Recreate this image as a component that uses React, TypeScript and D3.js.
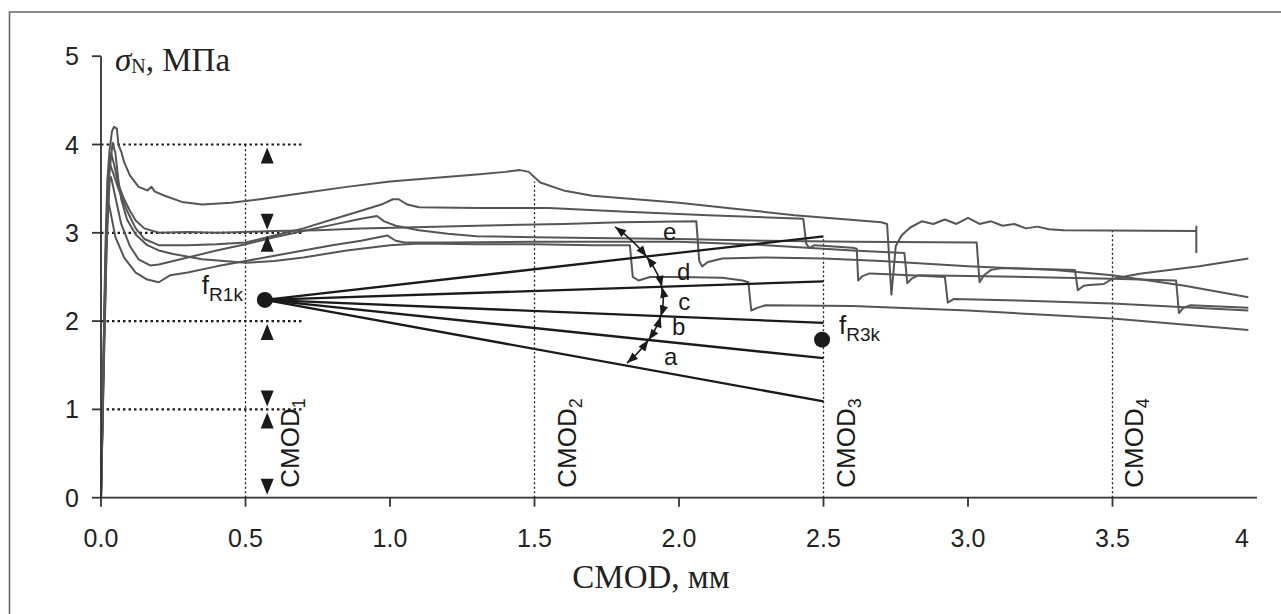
import React from "react";
import * as d3 from "d3";

// CMOD (mm) vs nominal stress (MPa), six specimen curves
type Pt = [number, number];

const curveA: Pt[] = [
  [0, 0], [0.008, 1.5], [0.015, 2.8], [0.022, 3.6], [0.03, 3.95], [0.038, 4.15], [0.045, 4.2],
  [0.055, 4.18], [0.06, 4.0], [0.07, 3.92], [0.08, 3.8], [0.1, 3.65], [0.13, 3.52], [0.16, 3.48],
  [0.175, 3.52], [0.185, 3.47], [0.22, 3.42], [0.28, 3.35], [0.35, 3.32], [0.45, 3.34], [0.55, 3.38],
  [0.7, 3.45], [0.85, 3.52], [1.0, 3.58], [1.15, 3.62], [1.3, 3.66], [1.4, 3.69], [1.45, 3.71],
  [1.48, 3.69], [1.52, 3.57], [1.6, 3.48], [1.7, 3.42], [1.85, 3.38], [2.0, 3.34], [2.2, 3.27],
  [2.4, 3.2], [2.55, 3.16], [2.7, 3.12], [2.72, 3.1], [2.735, 2.3], [2.75, 2.85], [2.77, 2.97],
  [2.8, 3.06], [2.84, 3.13], [2.88, 3.1], [2.92, 3.15], [2.96, 3.1], [3.0, 3.17], [3.04, 3.1],
  [3.08, 3.13], [3.12, 3.08], [3.16, 3.1], [3.2, 3.05], [3.24, 3.07], [3.28, 3.04], [3.33, 3.03],
  [3.79, 3.02], [3.79, 3.07], [3.79, 2.77],
];
const curveB: Pt[] = [
  [0, 0], [0.01, 1.7], [0.02, 3.1], [0.028, 3.7], [0.032, 3.77], [0.045, 3.65], [0.06, 3.5],
  [0.09, 3.25], [0.12, 3.05], [0.15, 2.93], [0.2, 2.86], [0.3, 2.86], [0.4, 2.87], [0.5, 2.89],
  [0.6, 2.97], [0.7, 3.05], [0.8, 3.15], [0.9, 3.25], [0.97, 3.32], [1.01, 3.38], [1.03, 3.38],
  [1.06, 3.32], [1.1, 3.29], [1.3, 3.28], [1.55, 3.28], [1.8, 3.24], [2.1, 3.2], [2.43, 3.16],
  [2.44, 2.88], [2.45, 2.83], [2.47, 2.86], [2.6, 2.83], [2.615, 2.82], [2.62, 2.46], [2.635, 2.51],
  [2.66, 2.54], [2.8, 2.52], [2.92, 2.5], [2.93, 2.21], [2.95, 2.25], [3.2, 2.23], [3.5, 2.2],
  [3.97, 2.12],
];
const curveC: Pt[] = [
  [0, 0], [0.01, 1.8], [0.02, 3.2], [0.03, 3.82], [0.035, 3.9], [0.045, 3.78], [0.06, 3.55],
  [0.08, 3.38], [0.1, 3.25], [0.12, 3.14], [0.15, 3.05], [0.2, 3.0], [0.3, 3.01], [0.4, 3.0],
  [0.5, 3.01], [0.6, 3.02], [0.75, 3.03], [0.9, 3.05], [1.05, 3.06], [1.3, 3.08], [1.6, 3.1],
  [1.8, 3.12], [2.06, 3.13], [2.07, 2.68], [2.08, 2.62], [2.1, 2.67], [2.15, 2.71], [2.3, 2.72],
  [2.5, 2.71], [2.7, 2.68], [3.0, 2.62], [3.3, 2.58], [3.5, 2.52], [3.75, 2.4], [3.97, 2.27],
];
const curveD: Pt[] = [
  [0, 0], [0.01, 1.5], [0.02, 2.9], [0.03, 3.6], [0.035, 3.63], [0.05, 3.4], [0.07, 3.1],
  [0.1, 2.85], [0.13, 2.7], [0.17, 2.63], [0.2, 2.64], [0.3, 2.72], [0.4, 2.8], [0.5, 2.87],
  [0.6, 2.95], [0.7, 3.02], [0.8, 3.09], [0.9, 3.16], [0.955, 3.19], [0.98, 3.13], [1.02, 3.08],
  [1.1, 3.03], [1.2, 2.99], [1.3, 2.96], [1.5, 2.95], [1.7, 2.94], [2.0, 2.93], [2.3, 2.91],
  [2.6, 2.9], [3.03, 2.89], [3.04, 2.44], [3.055, 2.52], [3.08, 2.58], [3.12, 2.6], [3.25, 2.59],
  [3.37, 2.58], [3.38, 2.35], [3.4, 2.4], [3.42, 2.41], [3.47, 2.42], [3.5, 2.48], [3.6, 2.54],
  [3.8, 2.62], [3.97, 2.71],
];
const curveE: Pt[] = [
  [0, 0], [0.008, 1.4], [0.015, 2.6], [0.022, 3.25], [0.027, 3.33], [0.035, 3.2], [0.05, 2.95],
  [0.08, 2.72], [0.12, 2.55], [0.16, 2.47], [0.2, 2.44], [0.24, 2.52], [0.3, 2.55], [0.4, 2.62],
  [0.5, 2.68], [0.6, 2.74], [0.7, 2.8], [0.8, 2.86], [0.9, 2.91], [0.99, 2.97], [1.02, 2.91],
  [1.05, 2.89], [1.2, 2.89], [1.5, 2.9], [1.8, 2.9], [2.0, 2.9], [2.3, 2.86], [2.6, 2.8],
  [2.78, 2.77], [2.79, 2.43], [2.805, 2.48], [2.83, 2.52], [3.0, 2.51], [3.2, 2.5], [3.5, 2.48],
  [3.72, 2.46], [3.73, 2.09], [3.745, 2.15], [3.77, 2.18], [3.97, 2.15],
];
const curveX: Pt[] = [
  [0, 0], [0.01, 1.6], [0.02, 3.0], [0.03, 3.7], [0.04, 4.02], [0.05, 3.9], [0.06, 3.6],
  [0.07, 3.38], [0.09, 3.15], [0.12, 2.98], [0.16, 2.86], [0.2, 2.8], [0.25, 2.76], [0.35, 2.7],
  [0.5, 2.66], [0.6, 2.68], [0.7, 2.72], [0.85, 2.8], [1.0, 2.86], [1.1, 2.88], [1.3, 2.87],
  [1.5, 2.87], [1.7, 2.86], [1.83, 2.86], [1.84, 2.5], [1.86, 2.46], [1.9, 2.5], [2.0, 2.5],
  [2.15, 2.49], [2.22, 2.46], [2.24, 2.44], [2.25, 2.12], [2.27, 2.15], [2.3, 2.18], [2.6, 2.17],
  [3.0, 2.12], [3.5, 2.03], [3.97, 1.9],
];
const curves = [curveA, curveB, curveC, curveD, curveE, curveX];

const xTicks = [0, 0.5, 1, 1.5, 2, 2.5, 3, 3.5];
const xTickLabels = ["0.0", "0.5", "1.0", "1.5", "2.0", "2.5", "3.0", "3.5", "4"];
const yTicks = [0, 1, 2, 3, 4, 5];

const fR1k: Pt = [0.567, 2.24];
const fR3k: Pt = [2.495, 1.79];
// straight lines from fR1k to CMOD3
const fanEnds = [2.96, 2.45, 1.98, 1.58, 1.09];
const fanNames = ["e", "d", "c", "b", "a"];
const fanLabelPos: Pt[] = [[1.945, 2.92], [1.993, 2.46], [1.997, 2.13], [1.976, 1.84], [1.948, 1.5]];

const levelLines = [4, 3, 2, 1];
const levelMarks: { v: number; dir: number }[] = [
  { v: 4, dir: 1 }, { v: 3, dir: -1 }, { v: 3, dir: 1 }, { v: 2, dir: 1 },
  { v: 1, dir: -1 }, { v: 1, dir: 1 }, { v: 0, dir: -1 },
];
const cmodX = [0.5, 1.5, 2.5, 3.5];
const cmodTop = [4.0, 3.58, 2.95, 3.03];
const cmodNames = ["1", "2", "3", "4"];
const cmodDx = [53, 41, 31, 30];

// angle arc: start, a point in the middle, end
const arcStart: Pt = [1.779, 3.066];
const arcMid: Pt = [1.945, 2.3];
const arcEnd: Pt = [1.82, 1.525];

const W = 1281;
const H = 614;
const SANS = "'Liberation Sans', Arial, sans-serif";
const SERIF = "'Liberation Serif', 'Times New Roman', serif";
const GRAY = "#555";
const INK = "#1a1a1a";

export default function App() {
  const x = d3.scaleLinear().domain([0, 4]).range([101, 1257]);
  const y = d3.scaleLinear().domain([0, 5]).range([497.7, 56.2]);
  const line = d3.line<Pt>().x(d => x(d[0])).y(d => y(d[1]));

  // quadratic bezier through the mid point
  const p0: Pt = [x(arcStart[0]), y(arcStart[1])];
  const p2: Pt = [x(arcEnd[0]), y(arcEnd[1])];
  const m: Pt = [x(arcMid[0]), y(arcMid[1])];
  const p1: Pt = [2 * m[0] - (p0[0] + p2[0]) / 2, 2 * m[1] - (p0[1] + p2[1]) / 2];
  const bez = (t: number): Pt => [
    (1 - t) * (1 - t) * p0[0] + 2 * (1 - t) * t * p1[0] + t * t * p2[0],
    (1 - t) * (1 - t) * p0[1] + 2 * (1 - t) * t * p1[1] + t * t * p2[1],
  ];
  const tan = (t: number): Pt => {
    const dx = 2 * (1 - t) * (p1[0] - p0[0]) + 2 * t * (p2[0] - p1[0]);
    const dy = 2 * (1 - t) * (p1[1] - p0[1]) + 2 * t * (p2[1] - p1[1]);
    const l = Math.hypot(dx, dy);
    return [dx / l, dy / l];
  };
  const F: Pt = [x(fR1k[0]), y(fR1k[1])];
  const crossT = fanEnds.map(v => {
    const E: Pt = [x(2.5), y(v)];
    const s = (t: number) => {
      const b = bez(t);
      return (E[0] - F[0]) * (b[1] - F[1]) - (E[1] - F[1]) * (b[0] - F[0]);
    };
    let prev = s(0);
    for (let i = 1; i <= 400; i++) {
      const t = i / 400;
      const cur = s(t);
      if (prev === 0 || prev * cur < 0) return t;
      prev = cur;
    }
    return 1;
  });
  // arrowheads: apex at point, pointing along +/- tangent
  const arrow = (t: number, sign: number) => {
    const [ax, ay] = bez(t);
    const [ux, uy] = tan(t).map(v => v * sign) as Pt;
    const L = 11, hw = 4.2;
    const bx = ax - ux * L, by = ay - uy * L;
    return `M${ax},${ay}L${bx - uy * hw},${by + ux * hw}L${bx + uy * hw},${by - ux * hw}Z`;
  };
  const arrows: string[] = [arrow(0, -1)];
  crossT.forEach((t, i) => {
    arrows.push(arrow(t, 1));
    if (i < crossT.length - 1) arrows.push(arrow(t, -1));
  });

  const markX = x(0.575);

  return (
    <div style={{ position: "absolute", left: 0, top: 0 }}>
      <svg width={W} height={H} style={{ display: "block", background: "#fff" }}>
        {/* frame */}
        <path d={`M9.5,${H}V12H${W}`} fill="none" stroke="#666" strokeWidth={1.6} />

        {/* level dotted lines */}
        {levelLines.map(v => (
          <line key={v} x1={x(0)} x2={x(0.7)} y1={y(v)} y2={y(v)}
            stroke={INK} strokeWidth={2.2} strokeDasharray="2.5 3" />
        ))}
        {cmodX.map((v, i) => (
          <line key={v} x1={x(v)} x2={x(v)} y1={y(0)} y2={y(cmodTop[i])}
            stroke={INK} strokeWidth={1.3} strokeDasharray="2 2.5" />
        ))}

        {/* specimen curves */}
        {curves.map((c, i) => (
          <path key={i} d={line(c) ?? ""} fill="none" stroke={GRAY} strokeWidth={2}
            strokeLinejoin="round" />
        ))}

        {/* fan of lines */}
        {fanEnds.map(v => (
          <line key={v} x1={x(fR1k[0])} y1={y(fR1k[1])} x2={x(2.5)} y2={y(v)}
            stroke={INK} strokeWidth={2.3} />
        ))}
        <path d={`M${p0[0]},${p0[1]}Q${p1[0]},${p1[1]} ${p2[0]},${p2[1]}`}
          fill="none" stroke={INK} strokeWidth={1.6} />
        {arrows.map((d, i) => <path key={i} d={d} fill={INK} />)}
        {fanNames.map((n, i) => (
          <text key={n} x={x(fanLabelPos[i][0])} y={y(fanLabelPos[i][1])}
            fontFamily={SANS} fontSize={24} fill={INK}>{n}</text>
        ))}

        <circle cx={x(fR1k[0])} cy={y(fR1k[1])} r={8} fill={INK} />
        <circle cx={x(fR3k[0])} cy={y(fR3k[1])} r={8} fill={INK} />
        <text x={x(fR1k[0]) - 63} y={y(fR1k[1]) - 6} fontFamily={SANS} fontSize={26} fill={INK}>
          f<tspan fontSize={19} dy={7}>R1k</tspan>
        </text>
        <text x={x(fR3k[0]) + 17} y={y(fR3k[1]) - 6} fontFamily={SANS} fontSize={26} fill={INK}>
          f<tspan fontSize={19} dy={7}>R3k</tspan>
        </text>

        {/* range markers */}
        {levelMarks.map((mk, i) => {
          const a = y(mk.v) + mk.dir * 3;
          const b = a + mk.dir * 16;
          return (
            <path key={i} d={`M${markX},${a}L${markX - 6.5},${b}L${markX + 6.5},${b}Z`} fill={INK} />
          );
        })}

        {/* CMOD labels */}
        {cmodX.map((v, i) => (
          <text key={v} transform={`translate(${x(v) + cmodDx[i]},${y(0) - 10}) rotate(-90)`}
            fontFamily={SANS} fontSize={26} fill={INK}>
            CMOD<tspan fontSize={18} dy={6}>{cmodNames[i]}</tspan>
          </text>
        ))}

        {/* axes */}
        <line x1={x(0)} x2={x(4)} y1={y(0)} y2={y(0)} stroke="#333" strokeWidth={1.8} />
        <line x1={x(0)} x2={x(0)} y1={y(0)} y2={y(5)} stroke="#333" strokeWidth={1.8} />
        {xTicks.map(v => (
          <line key={v} x1={x(v)} x2={x(v)} y1={y(0)} y2={y(0) + 9} stroke="#333" strokeWidth={1.8} />
        ))}
        {yTicks.map(v => (
          <line key={v} x1={x(0) - 9} x2={x(0)} y1={y(v)} y2={y(v)} stroke="#333" strokeWidth={1.8} />
        ))}
        {xTickLabels.map((s, i) => (
          <text key={s} x={i === 8 ? x(4) - 8 : x(i * 0.5)} y={y(0) + 49}
            textAnchor={i === 8 ? "end" : "middle"} fontFamily={SANS} fontSize={25} fill="#222">{s}</text>
        ))}
        {yTicks.map(v => (
          <text key={v} x={x(0) - 22} y={y(v) + 9} textAnchor="end"
            fontFamily={SANS} fontSize={25} fill="#222">{v}</text>
        ))}

        <text x={651} y={588} textAnchor="middle" fontFamily={SERIF} fontSize={33} fill="#222">
          CMOD, мм
        </text>
        <text x={115} y={71} fontFamily={SERIF} fontSize={33} fill="#222">
          <tspan fontStyle="italic">σ</tspan>
          <tspan fontSize={20} dy={2}>N</tspan>
          <tspan dy={-2}>, МПа</tspan>
        </text>
      </svg>
    </div>
  );
}
